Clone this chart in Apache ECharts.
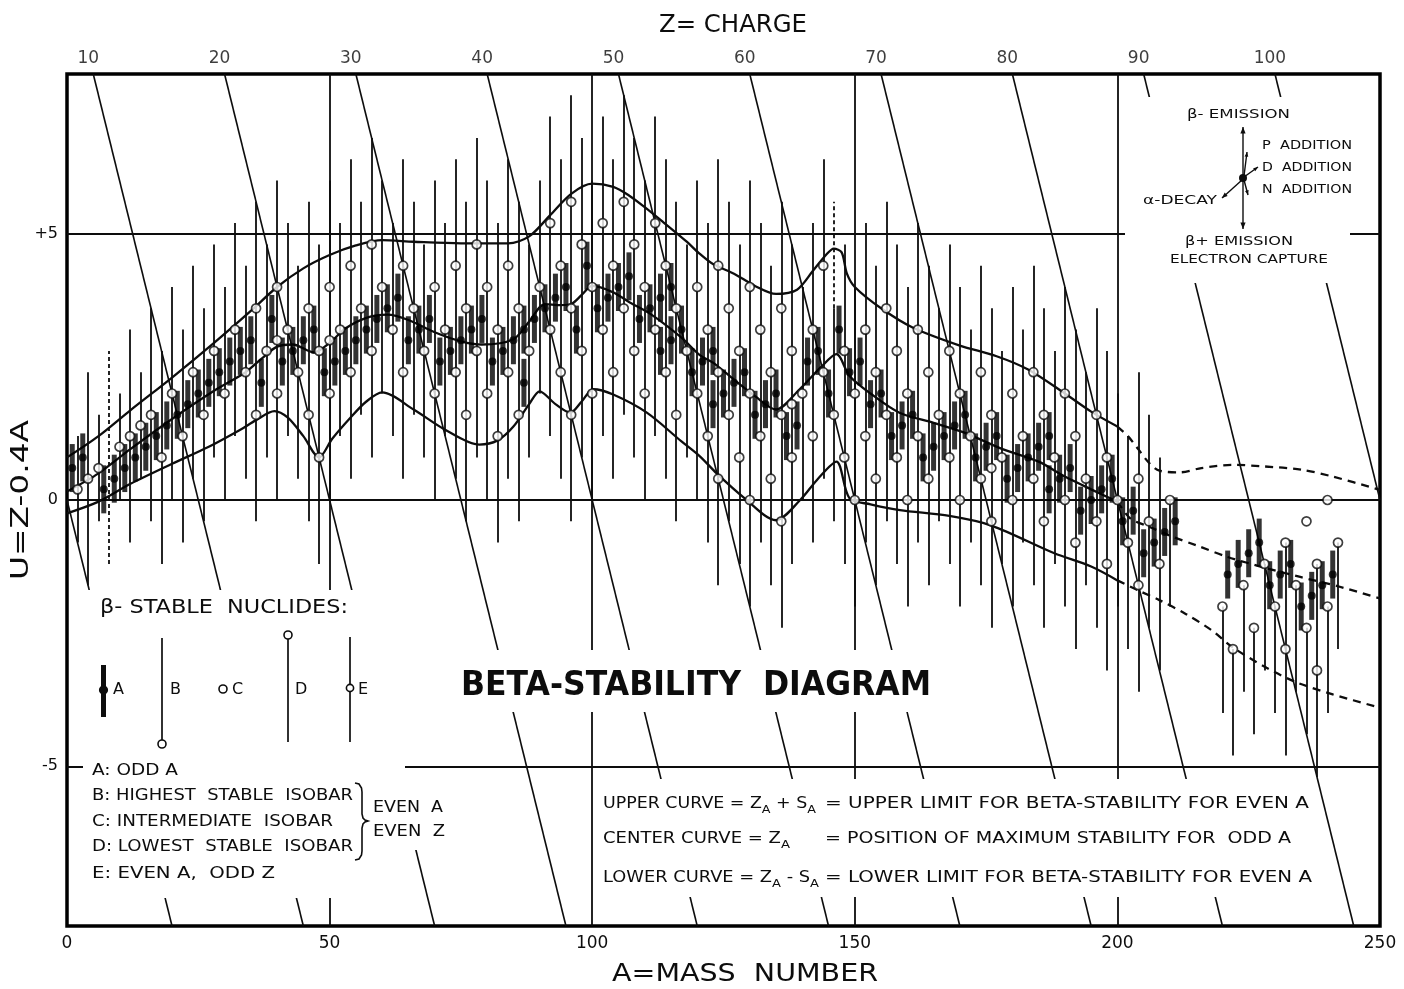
<!DOCTYPE html>
<html><head><meta charset="utf-8">
<script src="https://cdn.jsdelivr.net/npm/echarts@6/dist/echarts.min.js"></script>
<style>html,body{margin:0;padding:0;background:#fff}#c{width:1404px;height:989px}</style>
</head><body><div id="c"></div>
<script>
// ---------------- DATA ----------------
// odd-A beta-stable nuclides: [A, U]
const oddDots = [[1,0.6],[3,0.8],[7,0.2],[9,0.4],[11,0.6],[13,0.8],[15,1.0],[17,1.2],[19,1.4],[21,1.6],[23,1.8],[25,2.0],[27,2.2],[29,2.4],[31,2.6],[33,2.8],[35,3.0],[37,2.2],[39,3.4],[41,2.6],[43,2.8],[45,3.0],[47,3.2],[49,2.4],[51,2.6],[53,2.8],[55,3.0],[57,3.2],[59,3.4],[61,3.6],[63,3.8],[65,3.0],[67,3.2],[69,3.4],[71,2.6],[73,2.8],[75,3.0],[77,3.2],[79,3.4],[81,2.6],[83,2.8],[85,3.0],[87,2.2],[87,3.2],[89,3.4],[91,3.6],[93,3.8],[95,4.0],[97,3.2],[99,4.4],[101,3.6],[103,3.8],[105,4.0],[107,4.2],[109,3.4],[111,3.6],[113,2.8],[113,3.8],[115,3.0],[115,4.0],[117,3.2],[119,2.4],[121,2.6],[123,1.8],[123,2.8],[125,2.0],[127,2.2],[129,2.4],[131,1.6],[133,1.8],[135,2.0],[137,1.2],[139,1.4],[141,2.6],[143,2.8],[145,2.0],[147,3.2],[149,2.4],[151,2.6],[153,1.8],[155,2.0],[157,1.2],[159,1.4],[161,1.6],[163,0.8],[165,1.0],[167,1.2],[169,1.4],[171,1.6],[173,0.8],[175,1.0],[177,1.2],[179,0.4],[181,0.6],[183,0.8],[185,1.0],[187,0.2],[187,1.2],[189,0.4],[191,0.6],[193,-0.2],[195,0.0],[197,0.2],[199,0.4],[201,-0.4],[203,-0.2],[205,-1.0],[207,-0.8],[209,-0.6],[211,-0.4],[221,-1.4],[223,-1.2],[225,-1.0],[227,-0.8],[229,-1.6],[231,-1.4],[233,-1.2],[235,-2.0],[237,-1.8],[239,-1.6],[241,-1.4]];

// even-A nuclides (open circles): [A, U]
const evenCircles = [[2,0.2],[4,0.4],[6,0.6],[10,1.0],[12,1.2],[14,1.4],[16,1.6],[18,0.8],[20,2.0],[22,1.2],[24,2.4],[26,1.6],[28,2.8],[30,2.0],[32,3.2],[34,2.4],[36,1.6],[36,3.6],[38,2.8],[40,2.0],[40,3.0],[40,4.0],[42,3.2],[44,2.4],[46,1.6],[46,3.6],[48,0.8],[48,2.8],[50,2.0],[50,3.0],[50,4.0],[52,3.2],[54,2.4],[54,4.4],[56,3.6],[58,2.8],[58,4.8],[60,4.0],[62,3.2],[64,2.4],[64,4.4],[66,3.6],[68,2.8],[70,2.0],[70,4.0],[72,3.2],[74,2.4],[74,4.4],[76,1.6],[76,3.6],[78,2.8],[78,4.8],[80,2.0],[80,4.0],[82,1.2],[82,3.2],[84,2.4],[84,4.4],[86,1.6],[86,3.6],[88,2.8],[90,4.0],[92,3.2],[92,5.2],[94,2.4],[94,4.4],[96,1.6],[96,3.6],[96,5.6],[98,2.8],[98,4.8],[100,2.0],[100,4.0],[102,3.2],[102,5.2],[104,2.4],[104,4.4],[106,3.6],[106,5.6],[108,2.8],[108,4.8],[110,2.0],[110,4.0],[112,3.2],[112,5.2],[114,2.4],[114,4.4],[116,1.6],[116,3.6],[118,2.8],[120,2.0],[120,4.0],[122,1.2],[122,3.2],[124,0.4],[124,2.4],[124,4.4],[126,1.6],[126,3.6],[128,0.8],[128,2.8],[130,0.0],[130,2.0],[130,4.0],[132,1.2],[132,3.2],[134,0.4],[134,2.4],[136,-0.4],[136,1.6],[136,3.6],[138,0.8],[138,1.8],[138,2.8],[140,2.0],[142,1.2],[142,3.2],[144,2.4],[144,4.4],[146,1.6],[148,0.8],[148,2.8],[150,0.0],[150,2.0],[152,1.2],[152,3.2],[154,0.4],[154,2.4],[156,1.6],[156,3.6],[158,0.8],[158,2.8],[160,0.0],[160,2.0],[162,1.2],[162,3.2],[164,0.4],[164,2.4],[166,1.6],[168,0.8],[168,2.8],[170,0.0],[170,2.0],[172,1.2],[174,0.4],[174,2.4],[176,-0.4],[176,0.6],[176,1.6],[178,0.8],[180,0.0],[180,2.0],[182,1.2],[184,0.4],[184,2.4],[186,-0.4],[186,1.6],[188,0.8],[190,0.0],[190,2.0],[192,-0.8],[192,1.2],[194,0.4],[196,-0.4],[196,1.6],[198,-1.2],[198,0.8],[200,0.0],[202,-0.8],[204,-1.6],[204,0.4],[206,-0.4],[208,-1.2],[210,0.0],[220,-2.0],[222,-2.8],[224,-1.6],[226,-2.4],[228,-1.2],[230,-2.0],[232,-2.8],[232,-0.8],[234,-1.6],[236,-2.4],[236,-0.4],[238,-3.2],[238,-1.2],[240,-2.0],[240,0.0],[242,-0.8]];

// even-A thin lines: [A, Ulow, Uhigh]
const evenLines = [[2,-0.8,1.2],[4,-1.6,2.4],[6,-0.4,1.6],[10,0.0,2.0],[12,-0.8,3.2],[14,0.4,2.4],[16,-0.4,3.6],[18,-1.2,2.8],[20,0.0,4.0],[22,-0.8,3.2],[24,0.4,4.4],[26,-0.4,3.6],[28,0.8,4.8],[30,0.0,4.0],[32,1.2,5.2],[34,0.4,4.4],[36,-0.4,5.6],[38,0.8,4.8],[40,0.0,6.0],[42,1.2,5.2],[44,0.4,4.4],[46,-0.4,5.6],[48,-1.2,4.8],[50,0.0,6.0],[52,1.2,5.2],[54,0.4,6.4],[56,1.6,5.6],[58,0.8,6.8],[60,2.0,6.0],[62,1.2,5.2],[64,0.4,6.4],[66,1.6,5.6],[68,0.8,4.8],[70,0.0,6.0],[72,1.2,5.2],[74,0.4,6.4],[76,-0.4,5.6],[78,0.8,6.8],[80,0.0,6.0],[82,-0.8,5.2],[84,0.4,6.4],[86,-0.4,5.6],[88,0.8,4.8],[90,2.0,6.0],[92,1.2,7.2],[94,0.4,6.4],[96,-0.4,7.6],[98,0.8,6.8],[100,0.0,6.0],[102,1.2,7.2],[104,0.4,6.4],[106,1.6,7.6],[108,0.8,6.8],[110,0.0,6.0],[112,1.2,7.2],[114,0.4,6.4],[116,-0.4,5.6],[118,0.8,4.8],[120,0.0,6.0],[122,-0.8,5.2],[124,-1.6,6.4],[126,-0.4,5.6],[128,-1.2,4.8],[130,-2.0,6.0],[132,-0.8,5.2],[134,-1.6,4.4],[136,-2.4,5.6],[138,-1.2,4.8],[140,0.0,4.0],[142,-0.8,5.2],[144,0.4,6.4],[146,-0.4,3.6],[148,-1.2,4.8],[150,-2.0,4.0],[152,-0.8,5.2],[154,-1.6,4.4],[156,-0.4,5.6],[158,-1.2,4.8],[160,-2.0,4.0],[162,-0.8,5.2],[164,-1.6,4.4],[166,-0.4,3.6],[168,-1.2,4.8],[170,-2.0,4.0],[172,-0.8,3.2],[174,-1.6,4.4],[176,-2.4,3.6],[178,-1.2,2.8],[180,-2.0,4.0],[182,-0.8,3.2],[184,-1.6,4.4],[186,-2.4,3.6],[188,-1.2,2.8],[190,-2.0,4.0],[192,-2.8,3.2],[194,-1.6,2.4],[196,-2.4,3.6],[198,-3.2,2.8],[200,-2.0,2.0],[202,-2.8,1.2],[204,-3.6,2.4],[206,-2.4,1.6],[208,-3.2,0.8],[210,-2.0,0.0],[220,-4.0,-2.0],[222,-4.8,-2.8],[224,-3.6,-1.6],[226,-4.4,-2.4],[228,-3.2,-1.2],[230,-4.0,-2.0],[232,-4.8,-0.8],[234,-3.6,-1.6],[236,-4.4,-2.4],[238,-5.2,-1.2],[240,-4.0,-2.0],[242,-2.8,-0.8]];

// dashed lines (no stable isobar): [A, Ulow, Uhigh]
const dashedLines = [[8,-1.2,2.8],[146,3.6,5.6]];

// curves: [A, U]
const upperCurve = [[0,0.8],[6,1.2],[12,1.68],[20,2.3],[28,2.95],[35,3.55],[40,4.0],[45,4.35],[50,4.6],[55,4.78],[60,4.88],[66,4.85],[75,4.82],[84,4.82],[88,4.95],[92,5.35],[96,5.75],[100,5.94],[104,5.88],[107,5.72],[110,5.5],[113.5,5.22],[118,4.85],[120.5,4.62],[123,4.43],[127,4.25],[131,4.02],[135,3.87],[139,3.95],[142,4.3],[144.5,4.6],[146,4.72],[147.5,4.65],[148.5,4.25],[150,4.0],[155,3.6],[161,3.24],[170,2.9],[177,2.7],[183,2.45],[190,2.0],[195,1.66],[200,1.38]];
const centerCurve = [[0,0.16],[6,0.5],[12,0.95],[20,1.52],[28,2.05],[34,2.4],[37,2.65],[40,2.88],[43,2.92],[47,2.77],[50,2.95],[53,3.22],[57,3.42],[61,3.48],[65,3.38],[70,3.15],[75,2.98],[79,2.92],[85,3.02],[88,3.35],[91,3.68],[94,3.66],[96,3.68],[98,3.85],[100,4.02],[104,3.9],[107,3.72],[111,3.5],[117,3.05],[120.5,2.72],[123,2.58],[127,2.26],[131,1.95],[135,1.7],[139.5,2.08],[143.5,2.49],[146.5,2.74],[149,2.33],[153,2.0],[158.5,1.64],[165,1.45],[171,1.26],[178,0.96],[185,0.72],[190,0.44],[195,0.2],[200,-0.03]];
const lowerCurve = [[0,-0.25],[6,-0.03],[12,0.3],[20,0.68],[27,1.0],[33,1.32],[36,1.5],[39.5,1.67],[42,1.55],[45,1.2],[48,0.8],[50.5,1.15],[54,1.55],[57,1.85],[60,2.02],[66,1.7],[72,1.32],[78.5,1.04],[82,1.12],[85,1.38],[88,1.8],[90,2.04],[93,1.8],[95.8,1.64],[98,1.85],[100.2,2.08],[104,1.98],[110.4,1.64],[117,1.1],[120.5,0.82],[123.7,0.5],[128.7,0.06],[135,-0.38],[139.6,0.0],[143,0.4],[146.5,0.72],[149,0.03],[153,-0.08],[158.6,-0.19],[168,-0.3],[176,-0.48],[188,-1.0],[195,-1.25],[200,-1.51]];
const upperDashed = [[200,1.38],[202,1.2],[204,0.95],[206,0.7],[208,0.55],[212,0.52],[216,0.6],[222,0.66],[228,0.63],[235,0.57],[241,0.44],[250,0.19]];
const centerDashed = [[200,-0.03],[202.5,-0.35],[206,-0.5],[210.5,-0.69],[215,-0.85],[221,-1.07],[228,-1.27],[235,-1.45],[242,-1.62],[250,-1.85]];
const lowerDashed = [[200,-1.51],[204,-1.7],[208,-1.88],[213,-2.14],[218,-2.45],[222,-2.77],[228.4,-3.15],[234,-3.42],[241,-3.65],[250,-3.9]];

// lines of constant charge Z (U = Z - 0.4A) and their top labels
const zLineValues = [0,10,20,30,40,50,60,70,80,90,100];
const zTickLabels = [10,20,30,40,50,60,70,80,90,100];
// reference lines
const massLines = [50,100,150,200];
const refU = [5,0,-5];
const yLabelText = {'5':'+5','0':'0','-5':'-5'};

// ---------------- RENDER ----------------
const INK = '#0d0d0d';
const FONT = 'DejaVu Sans';
const U_MAX = 8, U_MIN = -8, A_MAX = 250;
const chart = echarts.init(document.getElementById('c'), null, {renderer:'canvas'});

const mctx = document.createElement('canvas').getContext('2d');
function tw(t, size, weight, fam){ mctx.font = (weight||'normal')+' '+size+'px "'+(fam||FONT)+'"'; return mctx.measureText(t).width; }
function stext(t, x, y, w, size, o){
  o = o || {}; const fam = o.family||FONT, wt = o.weight||'normal';
  const sx = w ? w / tw(t,size,wt,fam) : 1;
  return {type:'text', x:x, y:y, scaleX:sx, rotation:o.rotation||0, z:110, silent:true,
    style:{text:t, fontSize:size, fontFamily:fam, fontWeight:wt, fill:INK, textAlign:o.align||'left', textVerticalAlign:'middle'}};
}
function ptext(parts, x, y, w, size){
  const sub = Math.round(size*0.72); let nat=0;
  const ws = parts.map(p=>{const v=tw(p[0], p[1]?sub:size); nat+=v; return v;});
  const sx = w/nat; let cx=x; const els=[];
  parts.forEach((p,i)=>{ els.push({type:'text', x:cx, y: p[1]? y+size*0.42 : y, scaleX:sx, z:110, silent:true,
    style:{text:p[0], fontSize:p[1]?sub:size, fontFamily:FONT, fill:INK, textAlign:'left', textVerticalAlign:'middle'}}); cx += ws[i]*sx; });
  return els;
}
function arrow(x1,y1,x2,y2,h){
  h = h||6; const a = Math.atan2(y2-y1, x2-x1);
  return [{type:'line', z:110, silent:true, shape:{x1,y1,x2,y2}, style:{stroke:INK, lineWidth:1.4}},
    {type:'polygon', z:110, silent:true, shape:{points:[[x2,y2],[x2-h*Math.cos(a-0.38), y2-h*Math.sin(a-0.38)],[x2-h*Math.cos(a+0.38), y2-h*Math.sin(a+0.38)]]}, style:{fill:INK}}];
}
function rect(x,y,w,h){ return {type:'rect', z:100, silent:true, shape:{x,y,width:w,height:h}, style:{fill:'#fff'}}; }
function circ(cx,cy,r,fill){ return {type:'circle', z:111, silent:true, shape:{cx,cy,r}, style:{fill:fill||'#fff', stroke:INK, lineWidth:1.6}}; }
function seg(x1,y1,x2,y2,w){ return {type:'line', z:110, silent:true, shape:{x1,y1,x2,y2}, style:{stroke:INK, lineWidth:w||1.7}}; }

const graphics = [
  // white areas behind lettering (the original breaks the lines there)
  rect(83,590,322,308), rect(365,780,88,70), rect(455,650,477,62), rect(598,779,718,118), rect(1125,97,225,186),
  // axis titles
  stext('Z= CHARGE', 733, 26, 148, 24, {align:'center'}),
  stext('A=MASS  NUMBER', 745, 975, 266, 24, {align:'center'}),
  stext('U=Z-0.4A', 22, 500, 160, 24, {align:'center', rotation:Math.PI/2}),
  // title
  stext('BETA-STABILITY  DIAGRAM', 461, 686, 470, 34, {weight:'bold'}),
  // legend
  stext('β- STABLE  NUCLIDES:', 100, 608, 248, 20),
  {type:'rect', z:110, silent:true, shape:{x:101,y:665,width:5,height:52}, style:{fill:INK}},
  circ(103.5,690,3.8,INK),
  seg(162,638,162,740), circ(162,744,4),
  circ(223,689,4),
  seg(288,639,288,742), circ(288,635,4),
  seg(350,637,350,742), circ(350,688,3.6),
  stext('A',113,690,0,16), stext('B',170,690,0,16), stext('C',232,690,0,16), stext('D',295,690,0,16), stext('E',358,690,0,16),
  stext('A: ODD A', 92, 771, 86, 16),
  stext('B: HIGHEST  STABLE  ISOBAR', 92, 796, 261, 16),
  stext('C: INTERMEDIATE  ISOBAR', 92, 822, 241, 16),
  stext('D: LOWEST  STABLE  ISOBAR', 92, 847, 261, 16),
  stext('E: EVEN A,  ODD Z', 92, 874, 183, 16),
  {type:'polyline', z:110, silent:true, shape:{points:[[355,783],[359,784],[361.5,788],[362,792],[362,814],[363,818],[365,820],[368,821],[365,822],[363,824],[362,828],[362,851],[361.5,855],[359,859],[355,860]]}, style:{stroke:INK, lineWidth:1.6, fill:null}},
  stext('EVEN  A', 373, 808, 70, 16),
  stext('EVEN  Z', 373, 832, 72, 16),
  // curve definitions box
  ...ptext([['UPPER CURVE = Z',0],['A',1],[' + S',0],['A',1]], 603, 804, 213, 15),
  stext('= UPPER LIMIT FOR BETA-STABILITY FOR EVEN A', 825, 804, 484, 15),
  ...ptext([['CENTER CURVE = Z',0],['A',1]], 603, 839, 187, 15),
  stext('= POSITION OF MAXIMUM STABILITY FOR  ODD A', 825, 839, 466, 15),
  ...ptext([['LOWER CURVE = Z',0],['A',1],[' - S',0],['A',1]], 603, 878, 216, 15),
  stext('= LOWER LIMIT FOR BETA-STABILITY FOR EVEN A', 825, 878, 487, 15),
  // decay-direction key (upper right)
  stext('β- EMISSION', 1187, 115, 103, 13),
  stext('P  ADDITION', 1262, 146, 90, 12),
  stext('D  ADDITION', 1262, 168, 90, 12),
  stext('N  ADDITION', 1262, 190, 90, 12),
  stext('α-DECAY', 1143, 201, 74, 12),
  stext('β+ EMISSION', 1185, 242, 108, 13),
  stext('ELECTRON CAPTURE', 1170, 260, 158, 13),
  ...arrow(1243,178,1243,127,7), ...arrow(1243,178,1243,229,7),
  ...arrow(1244,176,1247,152,5), ...arrow(1244,177,1258,167,5), ...arrow(1244,180,1248,195,5), ...arrow(1242,180,1222,198,6),
  circ(1243,178,3.2,INK)
];

const blackLine = (w)=>({color:INK, width:w, opacity:1, curveness:0});
const option = {
  animation:false,
  textStyle:{fontFamily:FONT},
  grid:{left:67, right:24, top:74, bottom:63, show:true, borderColor:'#000', borderWidth:3.5, backgroundColor:'#fff'},
  xAxis:{type:'value', min:0, max:A_MAX, interval:50, axisLine:{show:false}, axisTick:{show:false}, splitLine:{show:false},
    axisLabel:{fontSize:17, color:INK, margin:9, fontFamily:FONT}},
  yAxis:{type:'value', min:U_MIN, max:U_MAX, interval:1, axisLine:{show:false}, axisTick:{show:false}, splitLine:{show:false},
    axisLabel:{fontSize:16, color:INK, margin:9, fontFamily:FONT, formatter:v=>yLabelText[String(v)]||''}},
  series:[
    {type:'lines', coordinateSystem:'cartesian2d', silent:true, z:1, lineStyle:blackLine(1.6),
      data: zLineValues.map(z=>{const a1=Math.max(0,(z-U_MAX)/0.4), a2=Math.min(A_MAX,(z-U_MIN)/0.4); return {coords:[[a1,z-0.4*a1],[a2,z-0.4*a2]]};})},
    {type:'lines', coordinateSystem:'cartesian2d', silent:true, z:1, lineStyle:blackLine(1.8),
      data: massLines.map(a=>({coords:[[a,U_MIN],[a,U_MAX]]}))},
    {type:'lines', coordinateSystem:'cartesian2d', silent:true, z:1, lineStyle:blackLine(2.2),
      data: refU.map(u=>({coords:[[0,u],[A_MAX,u]]}))},
    ...[upperCurve, centerCurve, lowerCurve].map(d=>({type:'line', data:d, smooth:0.3, symbol:'none', silent:true, z:2, lineStyle:{color:INK, width:2.3}})),
    ...[upperDashed, centerDashed, lowerDashed].map(d=>({type:'line', data:d, smooth:0.3, symbol:'none', silent:true, z:2, lineStyle:{color:INK, width:2.3, type:[8,6]}})),
    {type:'lines', coordinateSystem:'cartesian2d', silent:true, z:3, lineStyle:blackLine(1.8),
      data: evenLines.map(([a,lo,hi])=>({coords:[[a,lo],[a,hi]]}))},
    {type:'lines', coordinateSystem:'cartesian2d', silent:true, z:3, lineStyle:{color:INK, width:1.8, opacity:1, type:[4,3]},
      data: dashedLines.map(([a,lo,hi])=>({coords:[[a,lo],[a,hi]]}))},
    {type:'scatter', data:oddDots, symbol:'rect', symbolSize:[5,48], silent:true, z:4, itemStyle:{color:'#000'}},
    {type:'scatter', data:evenCircles, symbol:'circle', symbolSize:9, silent:true, z:5, itemStyle:{color:'#fff', borderColor:INK, borderWidth:1.7}},
    {type:'scatter', data:oddDots, symbol:'circle', symbolSize:8, silent:true, z:6, itemStyle:{color:'#000'}},
    {type:'scatter', silent:true, z:6, symbol:'circle', symbolSize:1, itemStyle:{color:'rgba(0,0,0,0)'},
      data: zTickLabels.map(z=>({value:[(z-U_MAX)/0.4, U_MAX], name:String(z)})),
      label:{show:true, position:'top', distance:6, offset:[-5,0], formatter:'{b}', fontSize:17, color:INK, fontFamily:FONT}}
  ],
  graphic:{elements:graphics}
};
chart.setOption(option);
</script>
</body></html>
